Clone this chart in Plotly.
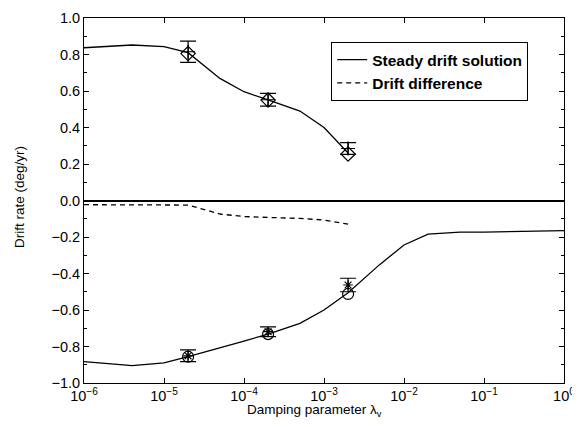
import plotly.graph_objects as go

# Damping parameter values for the curves
lam_curve_up = [1e-6, 4e-6, 1e-5, 2e-5, 5e-5, 1e-4, 2e-4, 5e-4, 1e-3, 2e-3]
steady_up = [0.837, 0.852, 0.843, 0.81, 0.669, 0.596, 0.551, 0.49, 0.40, 0.26]

lam_curve_low = [1e-6, 4e-6, 1e-5, 2e-5, 1e-4, 2e-4, 5e-4, 1e-3, 2e-3, 5e-3, 1e-2, 2e-2, 5e-2, 1e-1, 1.0]
steady_low = [-0.883, -0.905, -0.89, -0.856, -0.77, -0.732, -0.673, -0.60, -0.505, -0.35, -0.244, -0.184, -0.173, -0.173, -0.165]

lam_diff = [1e-6, 2e-5, 5e-5, 1e-4, 2e-4, 5e-4, 1e-3, 2e-3]
drift_diff = [-0.023, -0.025, -0.074, -0.088, -0.093, -0.098, -0.107, -0.13]

# Discrete points
lam_pts = [2e-5, 2e-4, 2e-3]
diamond_up = [0.805, 0.55, 0.255]
cross_up = [0.815, 0.552, 0.285]
err_up = [0.058, 0.035, 0.032]
circle_low = [-0.856, -0.732, -0.512]
star_low = [-0.851, -0.719, -0.463]
err_low = [0.032, 0.027, 0.037]

xtick_vals = [1e-6, 1e-5, 1e-4, 1e-3, 1e-2, 1e-1, 1]
xtick_text = ["10<sup>−6</sup>", "10<sup>−5</sup>", "10<sup>−4</sup>", "10<sup>−3</sup>",
              "10<sup>−2</sup>", "10<sup>−1</sup>", "10<sup>0</sup>"]
ytick_vals = [1.0, 0.8, 0.6, 0.4, 0.2, 0.0, -0.2, -0.4, -0.6, -0.8, -1.0]
ytick_text = ["1.0", "0.8", "0.6", "0.4", "0.2", "0.0", "−0.2", "−0.4", "−0.6", "−0.8", "−1.0"]

fig = go.Figure()
fig.add_trace(go.Scatter(x=lam_curve_up, y=steady_up, mode="lines",
                         line=dict(color="black", width=1.3),
                         name="<b>Steady drift solution</b>"))
fig.add_trace(go.Scatter(x=lam_curve_low, y=steady_low, mode="lines",
                         line=dict(color="black", width=1.3), showlegend=False))
fig.add_trace(go.Scatter(x=lam_diff, y=drift_diff, mode="lines",
                         line=dict(color="black", width=1.3, dash="5px,4px"),
                         name="<b>Drift difference</b>"))

fig.add_trace(go.Scatter(x=lam_pts, y=diamond_up, mode="markers",
                         marker=dict(symbol="diamond-open", size=11, color="black",
                                     line=dict(width=1.2)), showlegend=False))
fig.add_trace(go.Scatter(x=lam_pts, y=cross_up, mode="markers",
                         marker=dict(symbol="cross-thin-open", size=10, color="black",
                                     line=dict(width=1.2, color="black")),
                         error_y=dict(type="data", array=err_up, color="black",
                                      thickness=1.2, width=8),
                         showlegend=False))
fig.add_trace(go.Scatter(x=lam_pts, y=circle_low, mode="markers",
                         marker=dict(symbol="circle-open", size=11, color="black",
                                     line=dict(width=1.2)), showlegend=False))
fig.add_trace(go.Scatter(x=lam_pts, y=star_low, mode="markers",
                         marker=dict(symbol="asterisk-open", size=8, color="black",
                                     line=dict(width=1.2, color="black")),
                         error_y=dict(type="data", array=err_low, color="black",
                                      thickness=1.2, width=8),
                         showlegend=False))

# The page body has an 8px margin, so the figure is offset by (8, 8) in the window.
fig.update_layout(
    width=580, height=427,
    margin=dict(l=76, r=24, t=10, b=52, autoexpand=False),
    paper_bgcolor="white", plot_bgcolor="white",
    font=dict(family="Liberation Sans, Arial, sans-serif", size=14, color="black"),
    legend=dict(x=0.515, y=0.934, xanchor="left", yanchor="top",
                bordercolor="black", borderwidth=1, bgcolor="white",
                font=dict(size=15.5), tracegroupgap=0),
    xaxis=dict(type="log", range=[-6, 0], tickvals=xtick_vals, ticktext=xtick_text,
               ticks="inside", ticklen=5, tickcolor="black", showline=True,
               linecolor="black", linewidth=1, mirror="ticks", showgrid=False,
               zeroline=False, automargin=False, tickfont=dict(size=14.5)),
    yaxis=dict(range=[-1.0, 1.0], tickvals=ytick_vals, ticktext=ytick_text,
               ticks="inside", ticklen=5, tickcolor="black", showline=True,
               linecolor="black", linewidth=1, mirror="ticks", showgrid=False,
               zeroline=True, zerolinecolor="black", zerolinewidth=1.5,
               automargin=False, tickfont=dict(size=14.5),
               minor=dict(tickvals=[0.9, 0.7, 0.5, 0.3, 0.1, -0.1, -0.3, -0.5, -0.7, -0.9],
                          ticks="inside", ticklen=3, tickcolor="black")),
    annotations=[
        dict(text="Damping parameter λ<sub>v</sub>", xref="paper", yref="paper",
             x=0.481, y=-0.074, xanchor="center", yanchor="middle",
             showarrow=False, font=dict(size=13.5)),
        dict(text="Drift rate (deg/yr)", xref="paper", yref="paper",
             x=-0.133, y=0.51, xanchor="center", yanchor="middle", textangle=-90,
             showarrow=False, font=dict(size=13.5)),
    ],
)

fig.write_html("out.html")
